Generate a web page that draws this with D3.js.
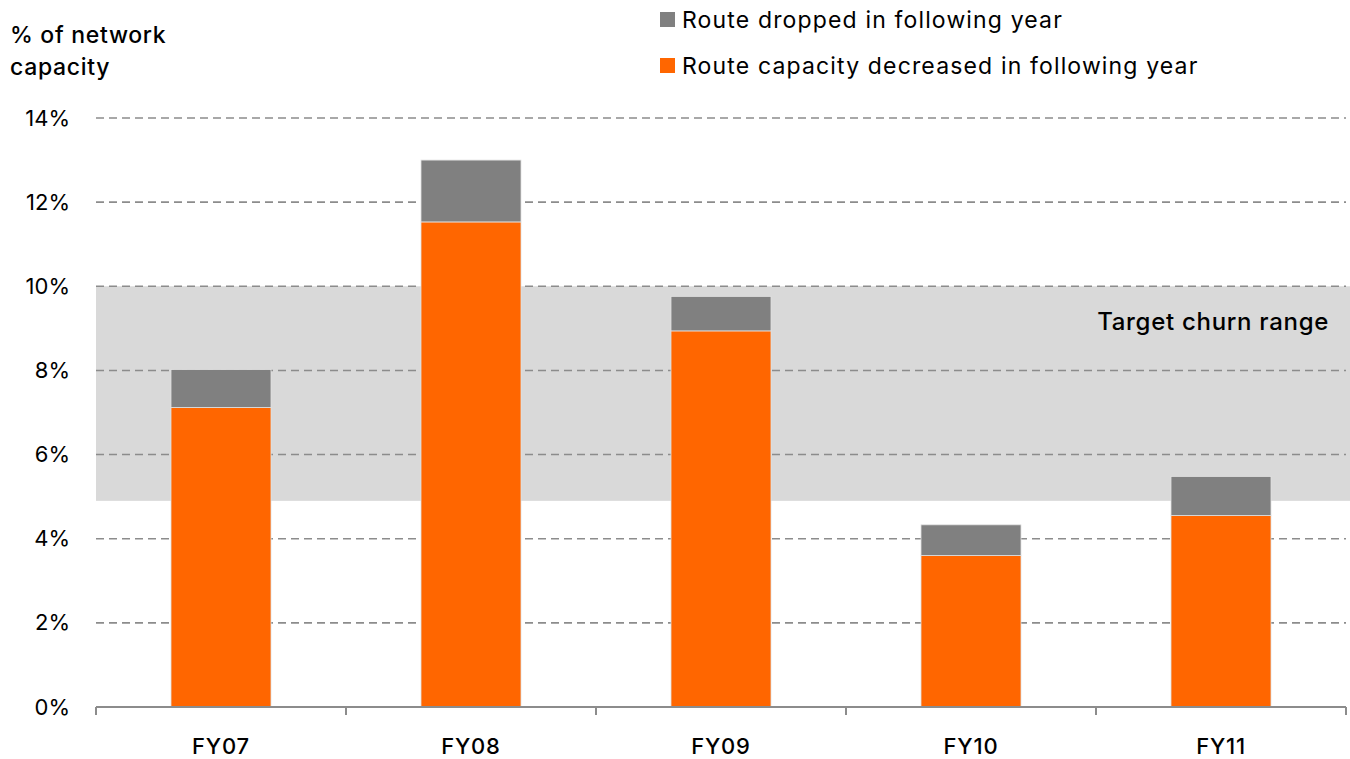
<!DOCTYPE html>
<html>
<head>
<meta charset="utf-8">
<script src="https://cdn.jsdelivr.net/npm/d3@7"></script>
<style>
  html, body { margin: 0; padding: 0; background: #fff; }
  svg { display: block; font-family: Inter, "Noto Sans", sans-serif; }
</style>
</head>
<body>
<svg id="chart" width="1350" height="759"></svg>
<script>
// Fiscal years on the x axis
const categories = ["FY07", "FY08", "FY09", "FY10", "FY11"];
// Share of network capacity (%) whose route capacity decreased in the following year
const capacityDecreased = [7.12, 11.53, 8.94, 3.60, 4.55];
// Share of network capacity (%) whose route was dropped in the following year
const routeDropped = [0.90, 1.47, 0.82, 0.73, 0.93];
// Target churn range (%)
const targetRange = [4.9, 10];
const yTicks = [0, 2, 4, 6, 8, 10, 12, 14];
const seriesNames = ["Route dropped in following year", "Route capacity decreased in following year"];

const colors = { decreased: "#FF6600", dropped: "#808080", band: "#D9D9D9", grid: "#8C8C8C" };

const svg = d3.select("#chart");
const margin = { left: 96, right: 4, top: 118, bottom: 52 };
const W = 1350, H = 759;
const plotRight = W - margin.right;
const plotBottom = H - margin.bottom;

const x = d3.scaleBand().domain(categories).range([margin.left, plotRight]).paddingInner(0.6).paddingOuter(0.3);
const y = d3.scaleLinear().domain([0, 14]).range([plotBottom, margin.top]);

// Target churn range band
svg.append("rect")
  .attr("x", margin.left).attr("width", W - margin.left)
  .attr("y", y(targetRange[1])).attr("height", y(targetRange[0]) - y(targetRange[1]))
  .attr("fill", colors.band);

svg.append("text")
  .attr("x", 1329).attr("y", y(targetRange[1]) + 44)
  .attr("text-anchor", "end")
  .attr("font-size", 24).attr("font-weight", 500).attr("letter-spacing", 0.7).attr("fill", "#000")
  .text("Target churn range");

// Dashed horizontal gridlines
svg.append("g").selectAll("line")
  .data(yTicks.filter(d => d > 0))
  .join("line")
  .attr("x1", margin.left).attr("x2", plotRight)
  .attr("y1", d => y(d)).attr("y2", d => y(d))
  .attr("stroke", colors.grid).attr("stroke-width", 1.6)
  .attr("stroke-dasharray", "8,5");

// Y axis labels
const yAxis = d3.axisLeft(y).tickValues(yTicks).tickFormat(d => d + "%").tickSize(0).tickPadding(26);
const gy = svg.append("g").attr("transform", `translate(${margin.left},0)`).call(yAxis);
gy.select(".domain").remove();
gy.selectAll("text").attr("font-size", 22).attr("fill", "#000").attr("font-family", "Inter, 'Noto Sans', sans-serif");

// Stacked bars
const stackData = categories.map((c, i) => ({ cat: c, decreased: capacityDecreased[i], dropped: routeDropped[i] }));
const stack = d3.stack().keys(["decreased", "dropped"]);
const layers = stack(stackData);

svg.append("g").selectAll("g")
  .data(layers)
  .join("g")
  .attr("fill", d => colors[d.key])
  .selectAll("rect")
  .data(d => d)
  .join("rect")
  .attr("x", d => x(d.data.cat))
  .attr("width", x.bandwidth())
  .attr("y", d => y(d[1]))
  .attr("height", d => y(d[0]) - y(d[1]))
  .attr("stroke", "#E2E2E2").attr("stroke-width", 0.8);

// X axis with ticks at category boundaries
const boundaries = d3.range(categories.length + 1).map(i => margin.left + i * (plotRight - margin.left) / categories.length);
const gx = svg.append("g");
gx.append("line")
  .attr("x1", margin.left).attr("x2", plotRight)
  .attr("y1", plotBottom).attr("y2", plotBottom)
  .attr("stroke", colors.grid).attr("stroke-width", 2);
gx.selectAll(".tk").data(boundaries).join("line")
  .attr("x1", d => d).attr("x2", d => d)
  .attr("y1", plotBottom).attr("y2", plotBottom + 8)
  .attr("stroke", colors.grid).attr("stroke-width", 2);
gx.selectAll("text").data(categories).join("text")
  .attr("x", d => x(d) + x.bandwidth() / 2)
  .attr("y", plotBottom + 47)
  .attr("text-anchor", "middle")
  .attr("font-size", 22).attr("font-weight", 500).attr("letter-spacing", 0.8).attr("fill", "#000")
  .text(d => d);

// Y axis title
const title = svg.append("text").attr("font-size", 23).attr("font-weight", 500).attr("letter-spacing", 0.7).attr("fill", "#000");
title.append("tspan").attr("x", 10).attr("y", 43).text("% of network");
title.append("tspan").attr("x", 10).attr("y", 75).text("capacity");

// Legend
const legendItems = [
  { name: seriesNames[0], color: colors.dropped },
  { name: seriesNames[1], color: colors.decreased }
];
const lg = svg.append("g").selectAll("g").data(legendItems).join("g")
  .attr("transform", (d, i) => `translate(660, ${12 + i * 46})`);
lg.append("rect").attr("width", 15).attr("height", 15).attr("fill", d => d.color);
lg.append("text").attr("x", 22).attr("y", 15.5)
  .attr("font-size", 23).attr("letter-spacing", 1.15).attr("fill", "#000")
  .text(d => d.name);
</script>
</body>
</html>
